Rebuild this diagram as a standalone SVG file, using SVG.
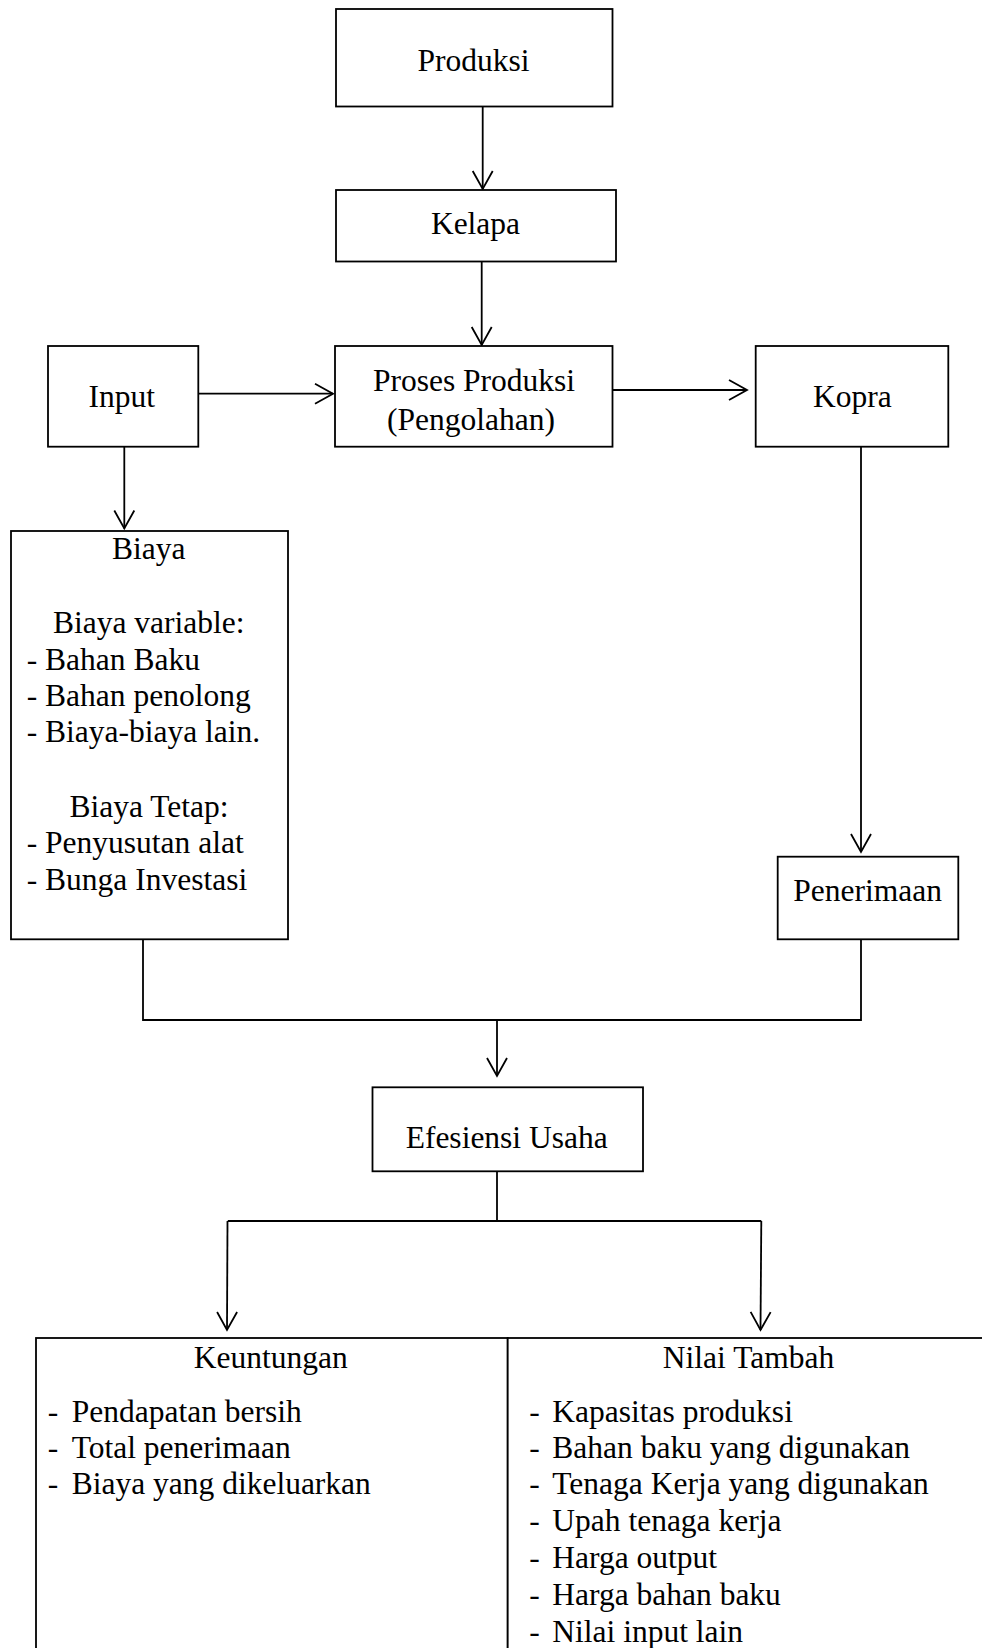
<svg xmlns="http://www.w3.org/2000/svg" width="982" height="1648" viewBox="0 0 982 1648">
<style>
.box{fill:#fff;stroke:#000;stroke-width:1.8}
.t{font-family:"Liberation Serif","Times New Roman",serif;font-size:31.5px;fill:#000}
.c{text-anchor:middle}
.ln{fill:none;stroke:#000;stroke-width:1.8}
</style>
<defs>
<marker id="arr" markerUnits="userSpaceOnUse" markerWidth="24" markerHeight="26" viewBox="-20 -13 22 26" refX="0" refY="0" orient="auto">
<path d="M-18,-10 L0,0 L-18,10" fill="none" stroke="#000" stroke-width="1.8"/>
</marker>
</defs>
<rect width="982" height="1648" fill="#fff"/>
<g id="connectors">
<line class="ln" x1="482.7" y1="107" x2="482.7" y2="189" marker-end="url(#arr)"/>
<line class="ln" x1="481.7" y1="262" x2="481.7" y2="345" marker-end="url(#arr)"/>
<line class="ln" x1="195" y1="393.7" x2="333" y2="393.7" marker-end="url(#arr)"/>
<line class="ln" x1="609" y1="390" x2="747" y2="390" marker-end="url(#arr)"/>
<line class="ln" x1="124.3" y1="447" x2="124.3" y2="528.5" marker-end="url(#arr)"/>
<line class="ln" x1="861" y1="447" x2="861" y2="852" marker-end="url(#arr)"/>
<polyline class="ln" points="143,940 143,1020 861,1020 861,940"/>
<line class="ln" x1="497" y1="1020" x2="497" y2="1076" marker-end="url(#arr)"/>
<line class="ln" x1="497" y1="1172" x2="497" y2="1221"/>
<line class="ln" x1="227.8" y1="1221" x2="761.3" y2="1221"/>
<line class="ln" x1="227.5" y1="1221" x2="227" y2="1330" marker-end="url(#arr)"/>
<line class="ln" x1="761.3" y1="1221" x2="760.5" y2="1330" marker-end="url(#arr)"/>
</g>
<g id="produksi">
<rect class="box" x="336" y="9" width="276.5" height="97.5"/>
<text class="t c" x="473.5" y="71">Produksi</text>
</g>
<g id="kelapa">
<rect class="box" x="336" y="190" width="280" height="71.5"/>
<text class="t c" x="475.5" y="234.3">Kelapa</text>
</g>
<g id="input">
<rect class="box" x="48" y="346" width="150.3" height="100.7"/>
<text class="t c" x="121.7" y="407.3">Input</text>
</g>
<g id="proses">
<rect class="box" x="335" y="346" width="277.5" height="100.7"/>
<text class="t c" x="474" y="390.7">Proses Produksi</text>
<text class="t c" x="471" y="430">(Pengolahan)</text>
</g>
<g id="kopra">
<rect class="box" x="755.7" y="346" width="192.6" height="100.7"/>
<text class="t c" x="852.3" y="407.3">Kopra</text>
</g>
<g id="biaya">
<rect class="box" x="11" y="531" width="277" height="408.3"/>
<text class="t c" x="148.7" y="559.3">Biaya</text>
<text class="t c" x="148.8" y="633.3">Biaya variable:</text>
<text class="t" x="26.7" y="670">- Bahan Baku</text>
<text class="t" x="26.7" y="706">- Bahan penolong</text>
<text class="t" x="26.7" y="742.3">- Biaya-biaya lain.</text>
<text class="t c" x="149" y="816.7">Biaya Tetap:</text>
<text class="t" x="26.7" y="853.3">- Penyusutan alat</text>
<text class="t" x="26.7" y="890">- Bunga Investasi</text>
</g>
<g id="penerimaan">
<rect class="box" x="777.7" y="856.7" width="180.6" height="82.6"/>
<text class="t c" x="867.7" y="901">Penerimaan</text>
</g>
<g id="efesiensi">
<rect class="box" x="372.5" y="1087.3" width="270.5" height="84"/>
<text class="t c" x="506.7" y="1148.3">Efesiensi Usaha</text>
</g>
<g id="keuntungan">
<rect class="box" x="36" y="1338" width="471.7" height="400"/>
<text class="t c" x="270.8" y="1367.7">Keuntungan</text>
<text class="t" x="47.7" y="1421.7">-</text>
<text class="t" x="71.7" y="1421.7">Pendapatan bersih</text>
<text class="t" x="47.7" y="1457.7">-</text>
<text class="t" x="71.7" y="1457.7">Total penerimaan</text>
<text class="t" x="47.7" y="1494">-</text>
<text class="t" x="71.7" y="1494">Biaya yang dikeluarkan</text>
</g>
<g id="nilai-tambah">
<rect class="box" x="507.7" y="1338" width="500" height="400"/>
<text class="t c" x="748.5" y="1367.7">Nilai Tambah</text>
<text class="t" x="529.3" y="1421.7">-</text>
<text class="t" x="552.3" y="1421.7">Kapasitas produksi</text>
<text class="t" x="529.3" y="1457.7">-</text>
<text class="t" x="552.3" y="1457.7">Bahan baku yang digunakan</text>
<text class="t" x="529.3" y="1494">-</text>
<text class="t" x="552.3" y="1494">Tenaga Kerja yang digunakan</text>
<text class="t" x="529.3" y="1530.7">-</text>
<text class="t" x="552.3" y="1530.7">Upah tenaga kerja</text>
<text class="t" x="529.3" y="1568.3">-</text>
<text class="t" x="552.3" y="1568.3">Harga output</text>
<text class="t" x="529.3" y="1605">-</text>
<text class="t" x="552.3" y="1605">Harga bahan baku</text>
<text class="t" x="529.3" y="1641.7">-</text>
<text class="t" x="552.3" y="1641.7">Nilai input lain</text>
</g>
</svg>
